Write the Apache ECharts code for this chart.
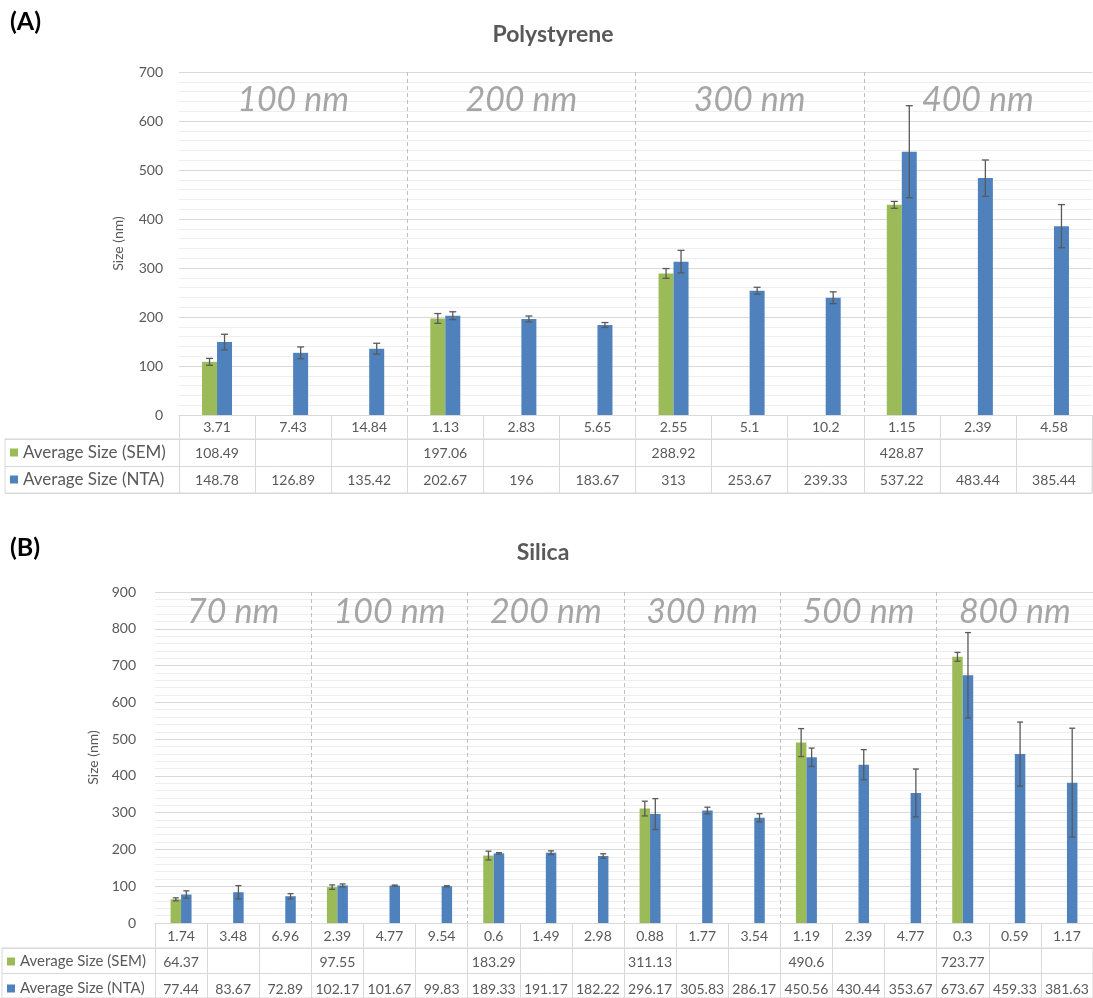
<!DOCTYPE html>
<html><head><meta charset="utf-8">
<script src="https://cdn.jsdelivr.net/npm/echarts@6/dist/echarts.min.js"></script>
<style>
html,body{margin:0;padding:0;background:#fff;overflow:hidden;}
#a{position:absolute;left:0;top:0;width:1093px;height:525px;}
#b{position:absolute;left:0;top:525px;width:1093px;height:473px;}
</style>
</head><body><div id="a"></div><div id="b"></div>
<script>
// ---------- Data: (A) Polystyrene ----------
const polyConc = ['3.71','7.43','14.84','1.13','2.83','5.65','2.55','5.1','10.2','1.15','2.39','4.58'];
const polySEM = [108.49,null,null,197.06,null,null,288.92,null,null,428.87,null,null];
const polyNTA = [148.78,126.89,135.42,202.67,196,183.67,313,253.67,239.33,537.22,483.44,385.44];
const polySEMErr = [7,null,null,10,null,null,10,null,null,7,null,null];
const polyNTAErr = [16,12,11,8,6,5,23,7,12,94,37,44];
const polyGroups = ['100 nm','200 nm','300 nm','400 nm'];

// ---------- Data: (B) Silica ----------
const silConc = ['1.74','3.48','6.96','2.39','4.77','9.54','0.6','1.49','2.98','0.88','1.77','3.54','1.19','2.39','4.77','0.3','0.59','1.17'];
const silSEM = [64.37,null,null,97.55,null,null,183.29,null,null,311.13,null,null,490.6,null,null,723.77,null,null];
const silNTA = [77.44,83.67,72.89,102.17,101.67,99.83,189.33,191.17,182.22,296.17,305.83,286.17,450.56,430.44,353.67,673.67,459.33,381.63];
const silSEMErr = [4,null,null,6,null,null,12,null,null,20,null,null,38,null,null,12,null,null];
const silNTAErr = [10,18,7,4,1.5,1.5,2,5,6,42,9,11,25,41,65,116,87,148];
const silGroups = ['70 nm','100 nm','200 nm','300 nm','500 nm','800 nm'];

const seriesNames = ['Average Size (SEM)','Average Size (NTA)'];
const yTicksMaxA = 700, yTicksMaxB = 900, yInterval = 100;

const FONT = 'Lato';
const TXT = '#595959';
const LINE = '#D9D9D9';
const GREEN = '#9BBB59';
const BLUE = '#4F81BD';

function fmt(v){ return v == null ? '' : String(v); }

function errData(vals, errs){
  const out = [];
  vals.forEach((v,i)=>{ if (v != null && errs[i] != null) out.push([i, v - errs[i], v + errs[i]]); });
  return out;
}

function errRender(sign, bw, cap){
  return function(params, api){
    const i = api.value(0);
    const lo = api.coord([i, api.value(1)]);
    const hi = api.coord([i, api.value(2)]);
    const x = lo[0] + sign * bw / 2;
    const st = {stroke:'#595959', lineWidth:1.3};
    return {type:'group', children:[
      {type:'line', shape:{x1:x, y1:lo[1], x2:x, y2:hi[1]}, style:st},
      {type:'line', shape:{x1:x-cap, y1:hi[1], x2:x+cap, y2:hi[1]}, style:st},
      {type:'line', shape:{x1:x-cap, y1:lo[1], x2:x+cap, y2:lo[1]}, style:st}
    ]};
  };
}

function build(d, L){
  const tableTop = L.top + L.height + L.row0;
  const lbl = {fontFamily:FONT, fontSize:14, color:TXT};
  return {
    animation:false,
    textStyle:{fontFamily:FONT},
    title:[
      {text:d.tag, left:10, top:L.tagTop, padding:0, textStyle:{fontFamily:FONT, fontSize:25, fontWeight:'bold', color:'#000'}},
      {text:d.title, left:L.titleX, textAlign:'center', top:L.titleTop, padding:0, textStyle:{fontFamily:FONT, fontSize:L.titleFont, fontWeight:'bold', color:TXT}}
    ],
    legend:{
      data:seriesNames, orient:'vertical', left:L.tableLeft + 5, top:tableTop + (27 - L.legFont) / 2,
      padding:0, itemWidth:8, itemHeight:8, itemGap:27 - L.legFont, icon:'rect', selectedMode:false,
      textStyle:{fontFamily:FONT, fontSize:L.legFont, color:TXT, lineHeight:L.legFont}
    },
    grid:[
      {left:L.left, top:L.top, width:L.width, height:L.height},
      {left:L.tableLeft, top:tableTop, width:L.left + L.width - L.tableLeft, height:L.row1 + L.row2,
       show:true, borderColor:LINE, borderWidth:1, backgroundColor:'transparent'}
    ],
    xAxis:[
      {type:'category', gridIndex:0, data:d.conc, position:'bottom',
       axisLine:{show:true, lineStyle:{color:LINE}}, axisTick:{show:true, length:L.row0, lineStyle:{color:LINE}},
       axisLabel:Object.assign({margin:Math.round(L.row0/2 - 7), interval:0}, lbl), splitLine:{show:false}},
      {type:'category', gridIndex:0, data:d.sem.map(fmt), position:'bottom', offset:L.row0,
       axisLine:{show:false}, axisTick:{show:true, length:L.row1, lineStyle:{color:LINE}},
       axisLabel:Object.assign({margin:Math.round(L.row1/2 - 7), interval:0}, lbl), splitLine:{show:false}},
      {type:'category', gridIndex:0, data:d.nta.map(fmt), position:'bottom', offset:L.row0 + L.row1,
       axisLine:{show:false}, axisTick:{show:true, length:L.row2, lineStyle:{color:LINE}},
       axisLabel:Object.assign({margin:Math.round(L.row2/2 - 7), interval:0}, lbl), splitLine:{show:false}},
      {type:'category', gridIndex:0, data:d.groups, position:'top',
       axisLine:{show:false}, axisTick:{show:false},
       axisLabel:{inside:true, margin:L.groupMargin, interval:0, fontFamily:FONT, fontSize:L.groupFont, fontStyle:'italic', color:'#A6A6A6'},
       splitLine:{show:true, showMinLine:false, showMaxLine:false, lineStyle:{color:'#BFBFBF', type:[4,3], width:1}}},
      {type:'value', gridIndex:1, show:false}
    ],
    yAxis:[
      {type:'value', gridIndex:0, min:0, max:d.max, interval:yInterval,
       name:'Size (nm)', nameLocation:'middle', nameGap:L.nameGap,
       nameTextStyle:{fontFamily:FONT, fontSize:14, color:TXT},
       axisLine:{show:false}, axisTick:{show:false},
       axisLabel:Object.assign({margin:L.labelMargin}, lbl),
       splitLine:{show:true, lineStyle:{color:LINE}},
       minorTick:{show:false, splitNumber:5},
       minorSplitLine:{show:true, lineStyle:{color:'#EEEEEE'}}},
      {type:'category', gridIndex:1, data:['r1','r2'], axisLine:{show:false}, axisTick:{show:false},
       axisLabel:{show:false}, splitLine:{show:true, lineStyle:{color:LINE}}}
    ],
    series:[
      {name:seriesNames[0], type:'bar', data:d.sem, barWidth:L.bw, barGap:'0%', itemStyle:{color:GREEN}, xAxisIndex:0, yAxisIndex:0},
      {name:seriesNames[1], type:'bar', data:d.nta, barWidth:L.bw, barGap:'0%', itemStyle:{color:BLUE}, xAxisIndex:0, yAxisIndex:0},
      {type:'custom', data:errData(d.sem, d.semErr), renderItem:errRender(-1, L.bw, L.cap), encode:{x:0, y:[1,2]}, xAxisIndex:0, yAxisIndex:0, z:5, silent:true},
      {type:'custom', data:errData(d.nta, d.ntaErr), renderItem:errRender(1, L.bw, L.cap), encode:{x:0, y:[1,2]}, xAxisIndex:0, yAxisIndex:0, z:5, silent:true}
    ]
  };
}

const chartA = echarts.init(document.getElementById('a'), null, {renderer:'canvas'});
chartA.setOption(build(
  {tag:'(A)', title:'Polystyrene', conc:polyConc, sem:polySEM, nta:polyNTA, semErr:polySEMErr, ntaErr:polyNTAErr, groups:polyGroups, max:yTicksMaxA},
  {left:179, top:72, width:913, height:343, row0:24, row1:27, row2:27, tableLeft:5, bw:15, cap:3.5,
   nameGap:54, labelMargin:16, groupMargin:11, groupFont:34, tagTop:9, titleX:553, titleTop:23, titleFont:23, legFont:17}
));

const chartB = echarts.init(document.getElementById('b'), null, {renderer:'canvas'});
chartB.setOption(build(
  {tag:'(B)', title:'Silica', conc:silConc, sem:silSEM, nta:silNTA, semErr:silSEMErr, ntaErr:silNTAErr, groups:silGroups, max:yTicksMaxB},
  {left:155, top:67, width:940, height:331, row0:25, row1:27, row2:27, tableLeft:2, bw:10.5, cap:3,
   nameGap:52, labelMargin:19, groupMargin:3, groupFont:34, tagTop:10, titleX:543, titleTop:16, titleFont:23, legFont:15}
));
</script>
</body></html>
